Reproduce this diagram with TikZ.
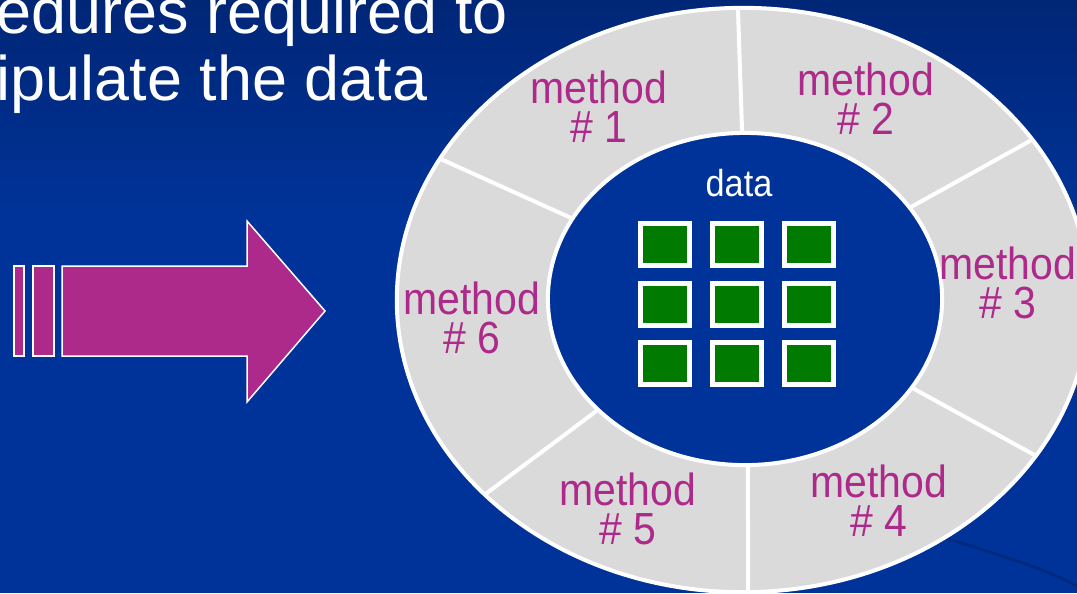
\documentclass[tikz,border=0pt]{standalone}
\usepackage{fontspec}
\setmainfont{Liberation Sans}
\newfontfamily\narrowsans[FakeStretch=0.91]{Liberation Sans}
\usetikzlibrary{shapes.geometric}
\definecolor{slidebg}{RGB}{0,51,153}
\definecolor{slidetop}{RGB}{0,38,118}
\definecolor{swooshblue}{RGB}{0,42,130}
\definecolor{magent}{RGB}{173,41,138}
\definecolor{ringgray}{RGB}{218,218,218}
\definecolor{cellgreen}{RGB}{0,122,0}

\begin{document}
\begin{tikzpicture}[x=0.01cm, y=-0.01cm,
                every node/.append style={inner sep=0pt, outer sep=0pt},
                lbl/.style={align=center, text=magent, font=\narrowsans\fontsize{12.8}{11.1}\selectfont},
                sepline/.style={draw=white, line width=0.04cm},
                oval/.style={ellipse, draw=white, line width=0.04cm},
                cell/.style={draw=white, line width=0.05cm, fill=cellgreen, minimum width=0.49cm, minimum height=0.42cm},
                pink/.style={draw=white, line width=0.015cm, fill=magent}]

\useasboundingbox (0,0) rectangle (1077,593);
\clip (0,0) rectangle (1077,593);

% slide background
\fill[slidebg] (0,0) rectangle (1077,593);
\shade[top color=slidetop, bottom color=slidebg] (0,0) rectangle (1077,220);
\draw[swooshblue, line width=0.03cm] (940,536) .. controls (1000,556) and (1040,566) .. (1077,586);

% title, cut at the left edge
\node[anchor=base west, text=white, font=\fontsize{17.9}{20}\selectfont] (t1) at (-3,33) {edures required to};
\node[anchor=base west, text=white, font=\fontsize{17.9}{20}\selectfont] (t2) at (-3,100) {ipulate the data};

% arrow with its two bars
\draw[pink] (14,266) rectangle (24,356);
\draw[pink] (33,266) rectangle (54,356);
\draw[pink] (62,266) -- (247,266) -- (247,221) -- (325,311) -- (247,402) -- (247,356) -- (62,356) -- cycle;

% ring of methods round the data
\node[oval, fill=ringgray, minimum width=6.92cm, minimum height=5.84cm] (ring) at (743,300) {};
\node[oval, fill=slidebg, minimum width=3.94cm, minimum height=3.32cm] (core) at (745,299) {};
\foreach \a in {91,29.5,-28,-89,-143,155.5}
    \draw[sepline] (core.\a) -- (ring.\a);

\node[lbl] (m1) at (599,106.5) {method\\\# 1};
\node[lbl] (m2) at (866,99) {method\\\# 2};
\node[lbl] (m3) at (1008,283) {method\\\# 3};
\node[lbl] (m4) at (879,501) {method\\\# 4};
\node[lbl] (m5) at (628,509) {method\\\# 5};
\node[lbl] (m6) at (472,318) {method\\\# 6};

% the data itself
\node[text=white, font=\narrowsans\fontsize{10.7}{12}\selectfont] (data) at (739,183.5) {data};
\foreach \r/\y in {1/244.5,2/304,3/363.5}
    \foreach \c/\x in {1/665,2/737,3/809}
        \node[cell] (c\r\c) at (\x,\y) {};

\end{tikzpicture}
\end{document}
